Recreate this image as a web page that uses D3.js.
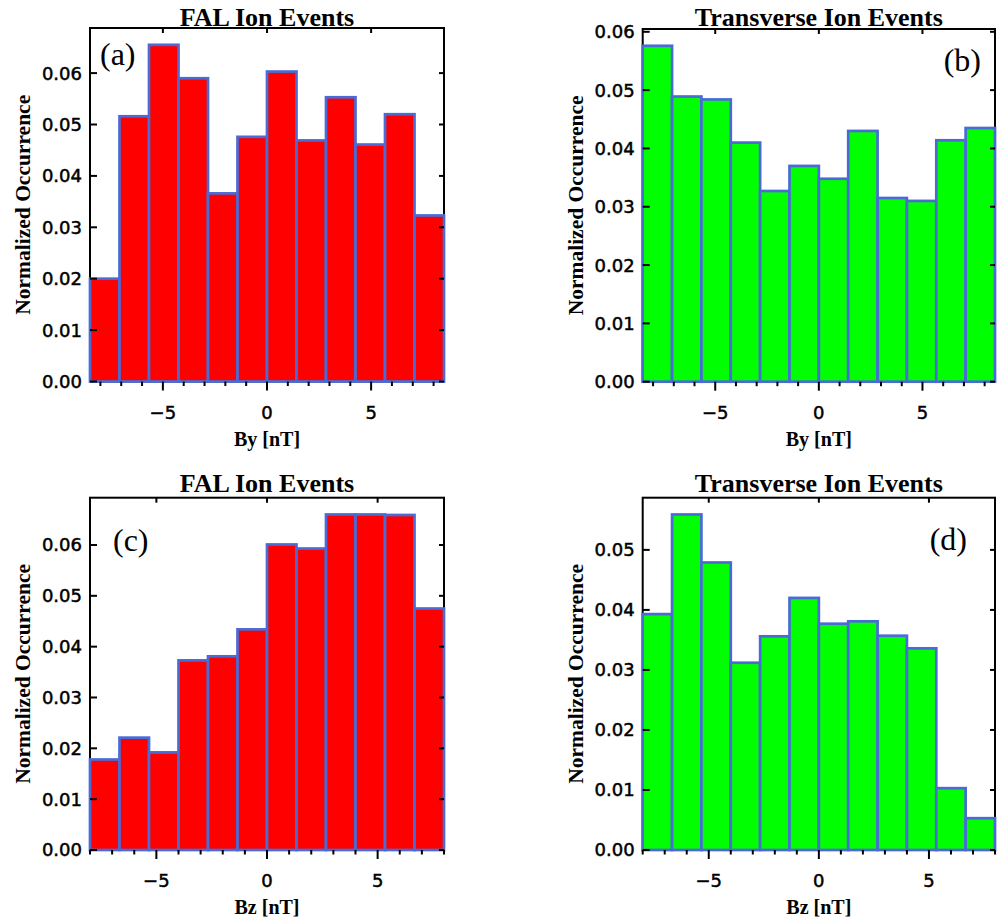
<!DOCTYPE html>
<html><head><meta charset="utf-8">
<script src="https://cdn.jsdelivr.net/npm/d3@7"></script>
<style>body{margin:0;background:#fff}</style>
</head><body>
<svg id="chart" width="1001" height="923"></svg>
<script>
// ---- data (normalized occurrence per 12 bins) ----
const falBy   = [0.0200, 0.0516, 0.0655, 0.0590, 0.0366, 0.0476, 0.0603, 0.0469, 0.0553, 0.0461, 0.0520, 0.0323];
const transBy = [0.0576, 0.0489, 0.0484, 0.0410, 0.0327, 0.0370, 0.0348, 0.0430, 0.0315, 0.0310, 0.0414, 0.0435];
const falBz   = [0.0178, 0.0221, 0.0192, 0.0373, 0.0381, 0.0434, 0.0601, 0.0593, 0.0660, 0.0660, 0.0659, 0.0475];
const transBz = [0.0393, 0.0559, 0.0479, 0.0312, 0.0356, 0.0420, 0.0377, 0.0381, 0.0357, 0.0336, 0.0103, 0.0053];
const byRange = [-8.5, 8.5];
const bzRange = [-8, 8];
const yTickValues = [0, 0.01, 0.02, 0.03, 0.04, 0.05, 0.06];
const xMajorTicks = [-5, 0, 5];
const xMinorTicks = [-8, -7, -6, -4, -3, -2, -1, 1, 2, 3, 4, 6, 7, 8];
const titles = ["FAL Ion Events", "Transverse Ion Events"];
const xLabels = ["By [nT]", "Bz [nT]"];
const yLabel = "Normalized Occurrence";

const RED = "#ff0000", GREEN = "#00ff00", EDGE = "#4a6bd6";

const panels = [
  {vals: falBy,   dom: byRange, title: titles[0], xl: xLabels[0], fill: RED,   box: [90, 444, 28, 381.5],   tag: "(a)", tagX: 100, tagY: 65, tagAnchor: "start", titleY: 25.5},
  {vals: transBy, dom: byRange, title: titles[1], xl: xLabels[0], fill: GREEN, box: [642.7, 995, 29, 381.7], tag: "(b)", tagX: 981, tagY: 71, tagAnchor: "end", titleY: 25.5},
  {vals: falBz,   dom: bzRange, title: titles[0], xl: xLabels[1], fill: RED,   box: [90, 444, 497.7, 850],  tag: "(c)", tagX: 113, tagY: 551, tagAnchor: "start", titleY: 492},
  {vals: transBz, dom: bzRange, title: titles[1], xl: xLabels[1], fill: GREEN, box: [642.7, 995, 497.7, 850], tag: "(d)", tagX: 967, tagY: 550, tagAnchor: "end", titleY: 492}
];

const svg = d3.select("#chart");
const fmt = d3.format(".2f");
const minus = s => s.replace("-", "\u2212");

panels.forEach(p => {
  const [x0, x1, y0, y1] = p.box;
  const x = d3.scaleLinear().domain(p.dom).range([x0, x1]);
  const ymax = d3.max(p.vals) * 1.05;
  const y = d3.scaleLinear().domain([0, ymax]).range([y1, y0]);
  const n = p.vals.length;
  const w = (p.dom[1] - p.dom[0]) / n;
  const g = svg.append("g");

  // frame
  g.append("rect").attr("x", x0).attr("y", y0).attr("width", x1 - x0).attr("height", y1 - y0)
    .attr("fill", "none").attr("stroke", "#000").attr("stroke-width", 2);

  // bars
  g.selectAll("rect.bar").data(p.vals).enter().append("rect").attr("class", "bar")
    .attr("x", (d, i) => x(p.dom[0] + i * w))
    .attr("width", (d, i) => x(p.dom[0] + (i + 1) * w) - x(p.dom[0] + i * w))
    .attr("y", d => y(d))
    .attr("height", d => y1 - y(d))
    .attr("fill", p.fill).attr("stroke", EDGE).attr("stroke-width", 2.7);

  const yt = yTickValues.filter(v => v <= ymax);
  // y ticks left & right (inward)
  g.selectAll("line.yl").data(yt).enter().append("line")
    .attr("x1", x0).attr("x2", x0 + 7).attr("y1", d => y(d)).attr("y2", d => y(d))
    .attr("stroke", "#000").attr("stroke-width", 2);
  g.selectAll("line.yr").data(yt).enter().append("line")
    .attr("x1", x1).attr("x2", x1 - 5).attr("y1", d => y(d)).attr("y2", d => y(d))
    .attr("stroke", "#000").attr("stroke-width", 2);
  // y tick labels
  g.selectAll("text.yt").data(yt).enter().append("text")
    .attr("x", x0 - 8).attr("y", d => y(d)).attr("dy", "0.36em")
    .attr("text-anchor", "end").attr("font-family", "DejaVu Sans").attr("font-size", 18)
    .attr("stroke", "#000").attr("stroke-width", 0.5)
    .text(d => fmt(d));

  // top major ticks (inward)
  g.selectAll("line.xt").data(xMajorTicks).enter().append("line")
    .attr("x1", d => x(d)).attr("x2", d => x(d)).attr("y1", y0).attr("y2", y0 + 5)
    .attr("stroke", "#000").attr("stroke-width", 2);
  // bottom ticks (outward)
  g.selectAll("line.xb").data(xMajorTicks).enter().append("line")
    .attr("x1", d => x(d)).attr("x2", d => x(d)).attr("y1", y1).attr("y2", y1 + 9)
    .attr("stroke", "#000").attr("stroke-width", 2);
  g.selectAll("line.xm").data(xMinorTicks).enter().append("line")
    .attr("x1", d => x(d)).attr("x2", d => x(d)).attr("y1", y1).attr("y2", y1 + 4.5)
    .attr("stroke", "#000").attr("stroke-width", 2);
  // x tick labels
  g.selectAll("text.xt").data(xMajorTicks).enter().append("text")
    .attr("x", d => x(d)).attr("y", y1 + 31).attr("dy", "0.36em")
    .attr("text-anchor", "middle").attr("font-family", "DejaVu Sans").attr("font-size", 18)
    .attr("stroke", "#000").attr("stroke-width", 0.5)
    .text(d => minus(String(d)));

  // x label
  g.append("text").attr("x", (x0 + x1) / 2).attr("y", y1 + 64)
    .attr("text-anchor", "middle").attr("font-family", "Liberation Serif").attr("font-weight", "bold")
    .attr("font-size", 20).text(p.xl);
  // y label
  g.append("text").attr("transform", `translate(${x0 - 60},${(y0 + y1) / 2}) rotate(-90)`)
    .attr("text-anchor", "middle").attr("font-family", "Liberation Serif").attr("font-weight", "bold")
    .attr("font-size", 21.5).text(yLabel);
  // title
  g.append("text").attr("x", (x0 + x1) / 2).attr("y", p.titleY)
    .attr("text-anchor", "middle").attr("font-family", "Liberation Serif").attr("font-weight", "bold")
    .attr("font-size", 26).text(p.title);
  // panel tag
  g.append("text").attr("x", p.tagX).attr("y", p.tagY).attr("text-anchor", p.tagAnchor)
    .attr("font-family", "Liberation Serif").attr("font-size", 32).text(p.tag);
});
</script>
</body></html>
